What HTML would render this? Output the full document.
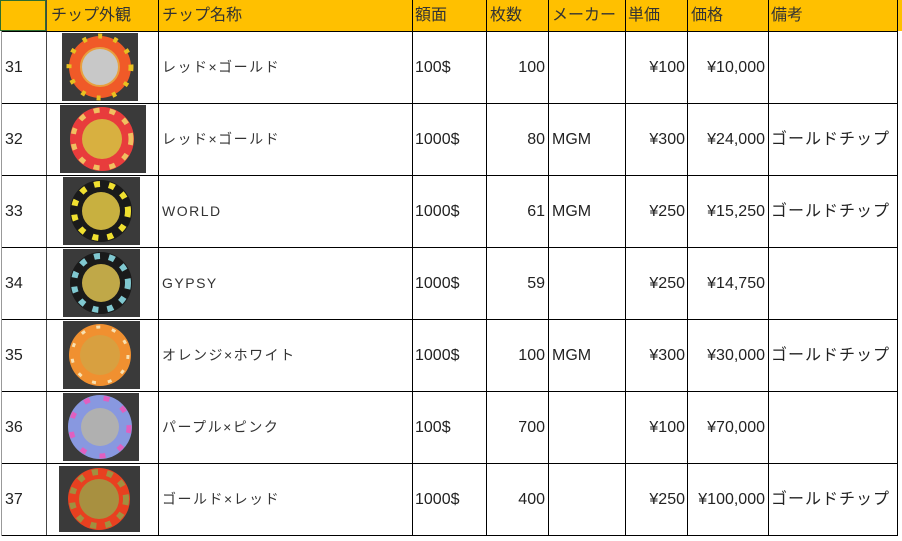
<!DOCTYPE html>
<html><head><meta charset="utf-8"><style>
body{margin:0;width:902px;height:541px;background:#fff;position:relative;overflow:hidden;font-family:"Liberation Sans","Noto Sans CJK JP",sans-serif;color:#222}
.hdr{position:absolute;left:0;top:0;width:902px;height:31px;background:#ffc000}
.v{position:absolute;width:1px;background:#000}
.h{position:absolute;height:1px;background:#000;left:2px;width:896px}
.t{position:absolute;font-size:16px;line-height:20px;white-space:nowrap}
.r{text-align:right}
.n{font-size:14px;letter-spacing:1.5px;color:#333}
.g{letter-spacing:1px}
</style></head><body>
<div class="hdr"></div>
<div style="position:absolute;left:0;top:0;width:46px;height:31px;border:1px solid #2e6e2e;box-sizing:border-box"></div>
<div class="v" style="left:46px;top:0;height:536px;background:#444"></div>
<div class="v" style="left:158px;top:0;height:536px"></div>
<div class="v" style="left:412px;top:0;height:536px"></div>
<div class="v" style="left:486px;top:0;height:536px"></div>
<div class="v" style="left:548px;top:0;height:536px"></div>
<div class="v" style="left:625px;top:0;height:536px"></div>
<div class="v" style="left:687px;top:0;height:536px"></div>
<div class="v" style="left:768px;top:0;height:536px"></div>
<div class="v" style="left:897px;top:0;height:536px"></div>
<div class="v" style="left:1px;top:31px;height:505px;background:#999"></div>
<div class="h" style="top:31px"></div><div class="h" style="top:103px"></div><div class="h" style="top:175px"></div><div class="h" style="top:247px"></div><div class="h" style="top:319px"></div><div class="h" style="top:391px"></div><div class="h" style="top:463px"></div><div class="h" style="top:535px"></div>

<div class="t" style="left:51px;top:6px;color:#333">チップ外観</div>
<div class="t" style="left:162px;top:6px;color:#333">チップ名称</div>
<div class="t" style="left:415px;top:6px;color:#333">額面</div>
<div class="t" style="left:490px;top:6px;color:#333">枚数</div>
<div class="t" style="left:552px;top:6px;color:#333">メーカー</div>
<div class="t" style="left:628px;top:6px;color:#333">単価</div>
<div class="t" style="left:691px;top:6px;color:#333">価格</div>
<div class="t" style="left:771px;top:6px;color:#333">備考</div>

<svg style="position:absolute;left:0;top:0" width="902" height="541">
<rect x="62" y="33" width="76" height="68" fill="#3a3a3a"/>
<circle cx="100" cy="67" r="31" fill="#f05a28"/><circle cx="100" cy="67" r="31" fill="none" stroke="#e8c020" stroke-width="5" stroke-dasharray="4 12"/><circle cx="100" cy="67" r="19" fill="#c8c8c8" stroke="#e8a040" stroke-width="2"/>
<rect x="60" y="105" width="86" height="68" fill="#3a3a3a"/>
<circle cx="102" cy="139" r="32" fill="#e83c3c"/><circle cx="102" cy="139" r="29" fill="none" stroke="#f0c060" stroke-width="5" stroke-dasharray="6 10"/><circle cx="102" cy="139" r="20" fill="#d8b040"/>
<rect x="63" y="177" width="77" height="68" fill="#3a3a3a"/>
<circle cx="101" cy="211" r="31" fill="#1a1a1a"/><circle cx="101" cy="211" r="27" fill="none" stroke="#f0e030" stroke-width="6" stroke-dasharray="6 9"/><circle cx="101" cy="211" r="19" fill="#c8b040"/>
<rect x="63" y="249" width="77" height="68" fill="#3a3a3a"/>
<circle cx="101" cy="283" r="31" fill="#1a1a1a"/><circle cx="101" cy="283" r="27" fill="none" stroke="#80c8d0" stroke-width="6" stroke-dasharray="6 9"/><circle cx="101" cy="283" r="19" fill="#c0a848"/>
<rect x="63" y="321" width="77" height="68" fill="#3a3a3a"/>
<circle cx="100" cy="355" r="31" fill="#f09030"/><circle cx="100" cy="355" r="28" fill="none" stroke="#f8e0b0" stroke-width="3" stroke-dasharray="4 12"/><circle cx="100" cy="355" r="20" fill="#d8a040"/>
<rect x="63" y="393" width="76" height="68" fill="#3a3a3a"/>
<circle cx="100" cy="427" r="32" fill="#8898e0"/><circle cx="100" cy="427" r="29" fill="none" stroke="#e060c0" stroke-width="5" stroke-dasharray="6 14"/><circle cx="100" cy="427" r="19" fill="#b0b0b0"/>
<rect x="59" y="466" width="81" height="66" fill="#3a3a3a"/>
<circle cx="99" cy="499" r="31" fill="#e84020"/><circle cx="99" cy="499" r="27" fill="none" stroke="#a09040" stroke-width="6" stroke-dasharray="6 9"/><circle cx="99" cy="499" r="20" fill="#a89040"/>
</svg>

<div class="t" style="left:5px;top:58px">31</div>
<div class="t n" style="left:162px;top:57px">レッド×ゴールド</div>
<div class="t" style="left:415px;top:58px">100$</div>
<div class="t r" style="left:486px;width:59px;top:58px">100</div>
<div class="t r" style="left:625px;width:60px;top:58px">¥100</div>
<div class="t r" style="left:687px;width:78px;top:58px">¥10,000</div>

<div class="t" style="left:5px;top:130px">32</div>
<div class="t n" style="left:162px;top:129px">レッド×ゴールド</div>
<div class="t" style="left:415px;top:130px">1000$</div>
<div class="t r" style="left:486px;width:59px;top:130px">80</div>
<div class="t" style="left:552px;top:130px">MGM</div>
<div class="t r" style="left:625px;width:60px;top:130px">¥300</div>
<div class="t r" style="left:687px;width:78px;top:130px">¥24,000</div>
<div class="t g" style="left:771px;top:130px">ゴールドチップ</div>

<div class="t" style="left:5px;top:202px">33</div>
<div class="t n" style="left:162px;top:201px">WORLD</div>
<div class="t" style="left:415px;top:202px">1000$</div>
<div class="t r" style="left:486px;width:59px;top:202px">61</div>
<div class="t" style="left:552px;top:202px">MGM</div>
<div class="t r" style="left:625px;width:60px;top:202px">¥250</div>
<div class="t r" style="left:687px;width:78px;top:202px">¥15,250</div>
<div class="t g" style="left:771px;top:202px">ゴールドチップ</div>

<div class="t" style="left:5px;top:274px">34</div>
<div class="t n" style="left:162px;top:273px">GYPSY</div>
<div class="t" style="left:415px;top:274px">1000$</div>
<div class="t r" style="left:486px;width:59px;top:274px">59</div>
<div class="t r" style="left:625px;width:60px;top:274px">¥250</div>
<div class="t r" style="left:687px;width:78px;top:274px">¥14,750</div>

<div class="t" style="left:5px;top:346px">35</div>
<div class="t n" style="left:162px;top:345px">オレンジ×ホワイト</div>
<div class="t" style="left:415px;top:346px">1000$</div>
<div class="t r" style="left:486px;width:59px;top:346px">100</div>
<div class="t" style="left:552px;top:346px">MGM</div>
<div class="t r" style="left:625px;width:60px;top:346px">¥300</div>
<div class="t r" style="left:687px;width:78px;top:346px">¥30,000</div>
<div class="t g" style="left:771px;top:346px">ゴールドチップ</div>

<div class="t" style="left:5px;top:418px">36</div>
<div class="t n" style="left:162px;top:417px">パープル×ピンク</div>
<div class="t" style="left:415px;top:418px">100$</div>
<div class="t r" style="left:486px;width:59px;top:418px">700</div>
<div class="t r" style="left:625px;width:60px;top:418px">¥100</div>
<div class="t r" style="left:687px;width:78px;top:418px">¥70,000</div>

<div class="t" style="left:5px;top:490px">37</div>
<div class="t n" style="left:162px;top:489px">ゴールド×レッド</div>
<div class="t" style="left:415px;top:490px">1000$</div>
<div class="t r" style="left:486px;width:59px;top:490px">400</div>
<div class="t r" style="left:625px;width:60px;top:490px">¥250</div>
<div class="t r" style="left:687px;width:78px;top:490px">¥100,000</div>
<div class="t g" style="left:771px;top:490px">ゴールドチップ</div>
</body></html>
